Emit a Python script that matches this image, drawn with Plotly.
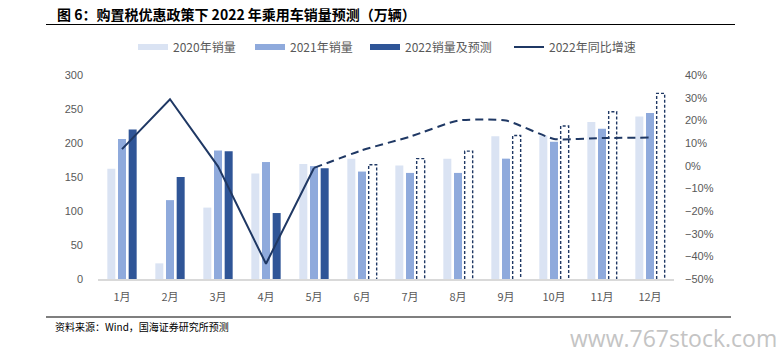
import plotly.graph_objects as go

# ---------------- data ----------------
months = ["1月", "2月", "3月", "4月", "5月", "6月", "7月", "8月", "9月", "10月", "11月", "12月"]
sales_2020 = [162, 23, 105, 155, 169, 177, 167, 177, 210, 211, 231, 239]
sales_2021 = [206, 116, 189, 172, 166, 158, 156, 156, 177, 202, 221, 244]
sales_2022 = [220, 150, 188, 97, 163, 168, 177, 188, 211, 225, 246, 273]
n_actual = 5  # Jan-May actual, Jun-Dec forecast
yoy_actual = [7.3, 29.3, -0.3, -43.3, -1.0]                      # 1月-5月
yoy_forecast = [-1.0, 6.8, 12.8, 19.9, 19.9, 11.8, 12.2, 12.4]   # 5月-12月

left_ticks = [0, 50, 100, 150, 200, 250, 300]
right_ticks = [-50, -40, -30, -20, -10, 0, 10, 20, 30, 40]
right_labels = [f"{v}%".replace("-", "\u2212") for v in right_ticks]

names = ["2020年销量", "2021年销量", "2022销量及预测", "2022年同比增速"]

# ---------------- styling ----------------
C20 = "#DAE3F3"
C21 = "#8FAADC"
C22 = "#2F5597"
CLINE = "#1F3864"
GRAY = "#595959"
FONT = "Liberation Sans, Noto Sans CJK SC, sans-serif"
CJK = "Noto Sans CJK SC, sans-serif"

BARGAP = 0.333
BARGROUPGAP = 0.25

idx = list(range(len(months)))
fig = go.Figure()

fig.add_trace(go.Bar(x=idx, y=sales_2020, marker=dict(color=C20, line=dict(width=0)),
                     name=names[0], showlegend=False))
fig.add_trace(go.Bar(x=idx, y=sales_2021, marker=dict(color=C21, line=dict(width=0)),
                     name=names[1], showlegend=False))
bar22_colors = [C22 if i < n_actual else "rgba(255,255,255,0)" for i in idx]
fig.add_trace(go.Bar(x=idx, y=sales_2022, marker=dict(color=bar22_colors, line=dict(width=0)),
                     name=names[2], showlegend=False))

# dashed outlines for the forecast bars (geometry follows the group layout)
slot = (1 - BARGAP) / 3
bw = slot * (1 - BARGROUPGAP)
xs, ys = [], []
for i in idx[n_actual:]:
    c = i + slot
    x0, x1 = c - bw / 2, c + bw / 2
    v = sales_2022[i]
    xs += [x0, x0, x1, x1, None]
    ys += [0, v, v, 0, None]
fig.add_trace(go.Scatter(x=xs, y=ys, mode="lines",
                         line=dict(color=CLINE, width=1.4, dash="3px,2px"),
                         showlegend=False, hoverinfo="skip"))

# yoy lines
fig.add_trace(go.Scatter(x=idx[:n_actual], y=yoy_actual, mode="lines", yaxis="y2",
                         line=dict(color=CLINE, width=2), name=names[3],
                         showlegend=True, legend="legend4"))
fig.add_trace(go.Scatter(x=idx[n_actual - 1:], y=yoy_forecast, mode="lines", yaxis="y2",
                         line=dict(color=CLINE, width=2, dash="8px,5px", shape="spline", smoothing=0.5),
                         showlegend=False))

# legend entries (flat rectangles like the original)
for nm, col, lg in zip(names[:3], [C20, C21, C22], ["legend", "legend2", "legend3"]):
    fig.add_trace(go.Scatter(x=[None], y=[None], mode="lines", line=dict(color=col, width=6),
                             name=nm, showlegend=True, legend=lg))

L, R, T, B = 98, 107, 75, 81
W, H = 781, 360
pw, ph = W - L - R, H - T - B

def px_x(px):
    return (px - L) / pw

def px_y(py):
    return (H - B - py) / ph

def legend_at(px):
    return dict(orientation="h", x=px_x(px), xanchor="left", y=px_y(47), yanchor="middle",
                font=dict(family=CJK, size=12, color=GRAY), itemwidth=30,
                bgcolor="rgba(0,0,0,0)")

fig.update_layout(
    width=W, height=H,
    margin=dict(l=L, r=R, t=T, b=B, autoexpand=False),
    paper_bgcolor="white", plot_bgcolor="white",
    font=dict(family=FONT, size=11, color=GRAY),
    barmode="group", bargap=BARGAP, bargroupgap=BARGROUPGAP,
    xaxis=dict(range=[-0.5, 11.5], tickvals=idx, ticktext=months, showgrid=False,
               zeroline=False, showline=True, linecolor="#D9D9D9", linewidth=1.5,
               ticks="", ticklabelstandoff=7,
               tickfont=dict(family=CJK, size=11, color=GRAY)),
    yaxis=dict(range=[0, 300], tickvals=left_ticks, showgrid=False, zeroline=False,
               showline=False, ticks="", ticklabelstandoff=14,
               tickfont=dict(size=11, color=GRAY)),
    yaxis2=dict(range=[-50, 40], tickvals=right_ticks, ticktext=right_labels,
                overlaying="y", side="right", showgrid=False, zeroline=False,
                showline=False, ticks="", ticklabelstandoff=10,
                tickfont=dict(size=11, color=GRAY)),
    legend=legend_at(133),
    legend2=legend_at(250),
    legend3=legend_at(365),
    legend4=legend_at(509),
    showlegend=True,
)

fig.add_annotation(text="<b>图 6：购置税优惠政策下 2022 年乘用车销量预测（万辆）</b>",
                   xref="paper", yref="paper", x=px_x(55), y=px_y(14), xanchor="left",
                   yanchor="middle", showarrow=False,
                   font=dict(family=CJK, size=14, color="#000000"))
fig.add_shape(type="line", xref="paper", yref="paper", x0=px_x(46), x1=px_x(735),
              y0=px_y(24.5), y1=px_y(24.5), line=dict(color="#000000", width=1.2))
fig.add_shape(type="line", xref="paper", yref="paper", x0=px_x(46), x1=px_x(731),
              y0=px_y(317), y1=px_y(317), line=dict(color="#000000", width=1.2))
fig.add_annotation(text="资料来源：Wind，国海证券研究所预测",
                   xref="paper", yref="paper", x=px_x(53), y=px_y(326), xanchor="left",
                   yanchor="middle", showarrow=False,
                   font=dict(family=CJK, size=10, color="#000000"))
fig.add_annotation(text="www.767stock.com",
                   xref="paper", yref="paper", x=px_x(779), y=px_y(338), xanchor="right",
                   yanchor="middle", showarrow=False,
                   font=dict(family="Open Sans, sans-serif", size=23, color="#C4C4C4"))

fig.write_html("out.html", config={"displayModeBar": False},
               post_script="document.body.style.margin='0px';")
